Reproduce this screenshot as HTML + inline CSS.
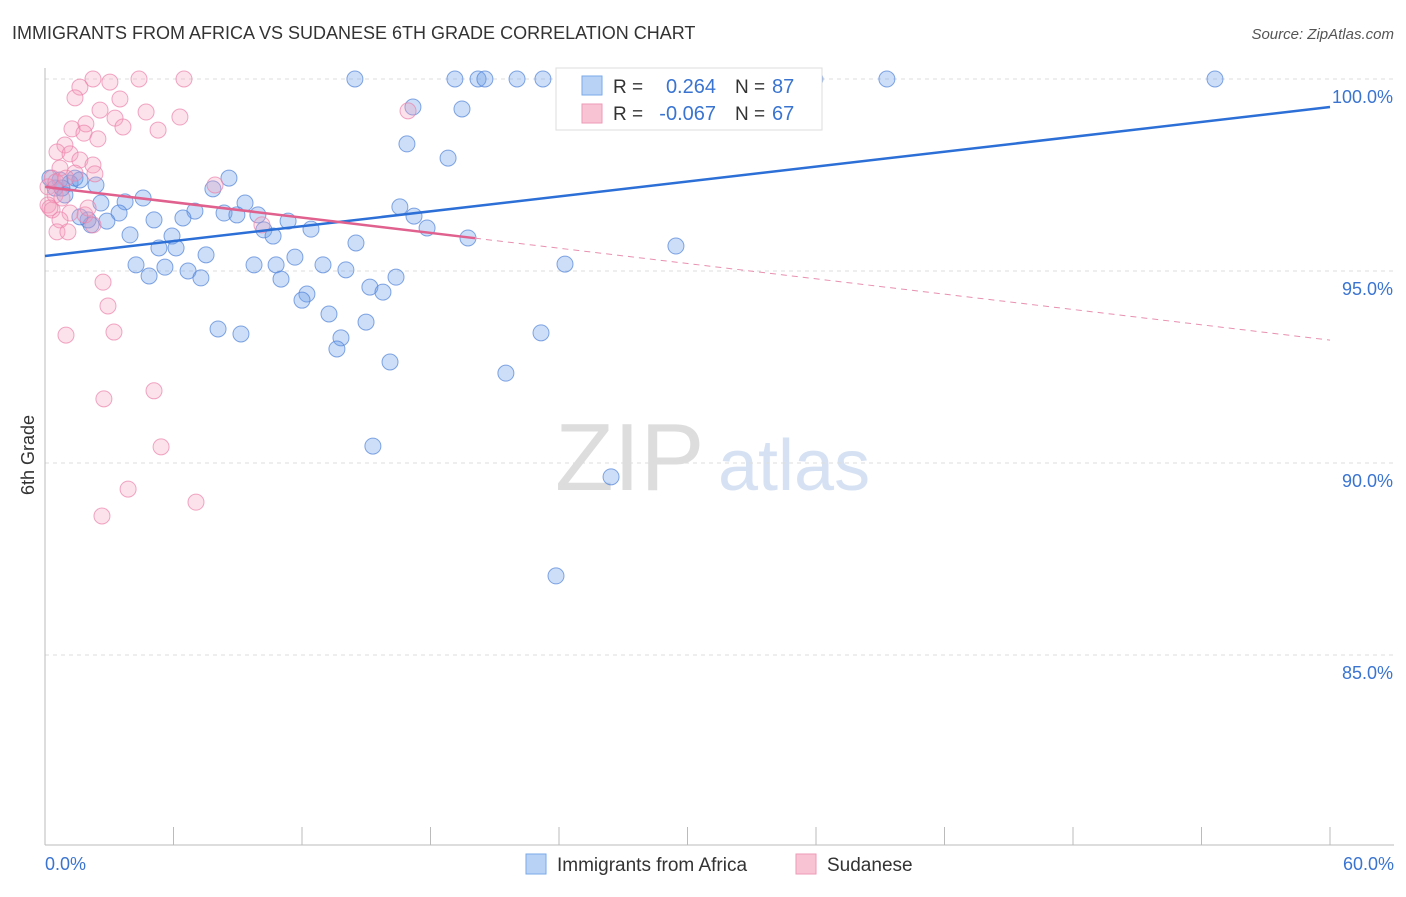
<!DOCTYPE html>
<html><head><meta charset="utf-8"><style>
body{margin:0;background:#fff;font-family:"Liberation Sans",sans-serif;}
svg text{font-family:"Liberation Sans",sans-serif;}
</style></head><body>
<svg id="chart" width="1406" height="892">
<text x="12" y="39" font-size="18" fill="#333">IMMIGRANTS FROM AFRICA VS SUDANESE 6TH GRADE CORRELATION CHART</text>
<text x="1394" y="39" font-size="15" fill="#555" text-anchor="end" font-style="italic">Source: ZipAtlas.com</text>
<text x="34" y="455" font-size="18" fill="#333" transform="rotate(-90 34 455)" text-anchor="middle">6th Grade</text>
<g><text x="555" y="490" font-size="96" fill="#ddd" font-family="Liberation Serif">ZIP</text><text x="718" y="490" font-size="72" fill="#d6e2f3">atlas</text></g>
<g id="grid"></g><g id="marks"></g><g id="trend"></g>
<g>
<rect x="556" y="68" width="266" height="62" fill="#fff" stroke="#ddd"/>
<rect x="582" y="76" width="20" height="19" fill="#b8d2f6" stroke="#7aaae8"/>
<rect x="582" y="104" width="20" height="19" fill="#f8c4d4" stroke="#ee9ab6"/>
<text x="613" y="93" font-size="19" fill="#333">R =</text><text x="716" y="93" font-size="20" fill="#3a74d0" text-anchor="end">0.264</text>
<text x="735" y="93" font-size="19" fill="#333">N =</text><text x="772" y="93" font-size="20" fill="#3a74d0">87</text>
<text x="613" y="120" font-size="19" fill="#333">R =</text><text x="716" y="120" font-size="20" fill="#3a74d0" text-anchor="end">-0.067</text>
<text x="735" y="120" font-size="19" fill="#333">N =</text><text x="772" y="120" font-size="20" fill="#3a74d0">67</text>
</g>
<g>
<rect x="526" y="854" width="20" height="20" fill="#b8d2f6" stroke="#7aaae8"/>
<text x="557" y="871" font-size="19" fill="#333">Immigrants from Africa</text>
<rect x="796" y="854" width="20" height="20" fill="#f8c4d4" stroke="#ee9ab6"/>
<text x="827" y="871" font-size="19" fill="#333">Sudanese</text>
</g>
</svg>
<script>
const xTicks=[0,6,12,18,24,30,36,42,48,54,60];
const yTicks=[100,95,90,85];
const yTickLabels=["100.0%","95.0%","90.0%","85.0%"];
const africaX=[14.47,19.14,20.22,20.54,22.04,23.25,24.75,30.58,32.68,33.38,35.95,39.31,54.63,17.18,19.47,16.9,18.82,8.59,2.38,7.84,4.58,2.61,3.74,9.34,3.46,7.0,8.36,8.96,9.94,16.57,5.09,6.44,2.89,2.15,11.35,12.42,17.23,17.84,3.97,5.93,10.22,10.65,5.32,6.12,14.52,7.52,11.67,4.25,5.6,6.68,4.86,7.28,9.76,10.79,12.98,14.05,11.02,16.39,24.28,29.46,15.17,15.78,12.23,12.0,13.26,14.99,8.08,9.15,13.82,13.63,23.16,16.11,21.52,15.31,26.43,23.86,19.75,0.7,1.17,1.4,0.47,0.93,1.63,0.23,2.01,1.63,0.79];
const africaY=[100,100,100,100,100,100,100,100,100,100,100,100,100,99.27,99.22,98.31,97.94,97.42,97.24,97.14,96.9,96.77,96.8,96.77,96.51,96.56,96.51,96.46,96.46,96.67,96.33,96.38,96.3,96.2,96.3,96.09,96.43,96.12,95.94,95.91,96.07,95.91,95.6,95.6,95.73,95.42,95.36,95.16,95.1,95.0,94.87,94.82,95.16,95.16,95.16,95.03,94.79,94.84,95.18,95.65,94.58,94.45,94.4,94.24,93.88,93.67,93.49,93.36,93.26,92.97,93.39,92.63,92.34,90.44,89.64,87.06,95.86,97.37,97.29,97.42,97.16,96.98,97.37,97.42,96.33,96.41,97.16];
const sudX=[2.24,3.03,4.39,6.49,1.63,1.4,2.57,3.5,4.72,6.3,3.27,1.91,1.26,3.64,5.28,1.82,2.47,0.93,0.56,1.17,1.63,0.7,2.24,2.33,1.4,0.33,0.14,0.47,0.79,0.14,0.33,1.17,1.87,0.7,2.24,0.56,1.07,7.94,10.13,16.95,2.71,2.94,0.98,3.22,5.09,2.75,5.42,3.88,7.05,2.66,2.01,0.23,0.51,0.98];
const sudY=[100,99.92,100,100,99.79,99.51,99.19,99.48,99.14,99.01,98.98,98.83,98.7,98.75,98.67,98.59,98.44,98.28,98.1,98.05,97.89,97.68,97.76,97.53,97.55,97.42,97.19,96.98,96.9,96.72,96.59,96.51,96.46,96.33,96.2,96.02,96.02,97.24,96.2,99.17,94.71,94.09,93.33,93.41,91.88,91.67,90.42,89.32,88.98,88.62,96.64,96.64,97.32,97.42];
const africaTrend=[95.39,99.27];
const sudTrend=[97.19,93.2];
const sudSolidEnd=20.08;
const X=v=>45+v/60*1285, Y=v=>79+(100-v)*38.4;
const NS="http://www.w3.org/2000/svg";
function mk(t,a,p){const e=document.createElementNS(NS,t);for(const k in a)e.setAttribute(k,a[k]);p.appendChild(e);return e;}
const grid=document.getElementById('grid'),marks=document.getElementById('marks'),trend=document.getElementById('trend');
yTicks.forEach((v,i)=>{
 const l=mk('line',{x1:45,x2:1394,y1:Y(v),y2:Y(v),stroke:'#ddd','stroke-dasharray':'4,4'},grid);
 
 
 const t=mk('text',{x:1393,y:Y(v)+24,'font-size':18,fill:'#3a74d0','text-anchor':'end'},grid);t.textContent=yTickLabels[i];
 
 
});
mk('line',{x1:45,x2:45,y1:68,y2:845,stroke:'#bbb'},grid);
mk('line',{x1:45,x2:1394,y1:845,y2:845,stroke:'#bbb'},grid);
xTicks.forEach(v=>{const l=mk('line',{x1:X(v),x2:X(v),y1:827,y2:845,stroke:'#bbb'},grid);
 
 });
let t0=mk('text',{x:45,y:870,'font-size':18,fill:'#3a74d0'},grid);t0.textContent='0.0%';


let t1=mk('text',{x:1394,y:870,'font-size':18,fill:'#3a74d0','text-anchor':'end'},grid);t1.textContent='60.0%';


africaX.forEach((x,i)=>{const c=mk('circle',{cx:X(x),cy:Y(africaY[i]),r:8,fill:'rgba(110,160,235,0.35)',stroke:'rgba(80,130,215,0.7)','stroke-width':1},marks);
 
 });
sudX.forEach((x,i)=>{const c=mk('circle',{cx:X(x),cy:Y(sudY[i]),r:8,fill:'rgba(245,160,190,0.3)',stroke:'rgba(235,130,170,0.7)','stroke-width':1},marks);
 
 });
const bl=mk('line',{x1:X(0),y1:Y(africaTrend[0]),x2:X(60),y2:Y(africaTrend[1]),stroke:'#2c6fd6','stroke-width':2.5},trend);


const sy=v=>sudTrend[0]+(sudTrend[1]-sudTrend[0])*v/60;
const pl=mk('line',{x1:X(0),y1:Y(sudTrend[0]),x2:X(sudSolidEnd),y2:Y(sy(sudSolidEnd)),stroke:'#e0608e','stroke-width':2.5},trend);


const pd=mk('line',{x1:X(sudSolidEnd),y1:Y(sy(sudSolidEnd)),x2:X(60),y2:Y(sudTrend[1]),stroke:'#e890b0','stroke-width':1,'stroke-dasharray':'6,5'},trend);


</script>
</body></html>
